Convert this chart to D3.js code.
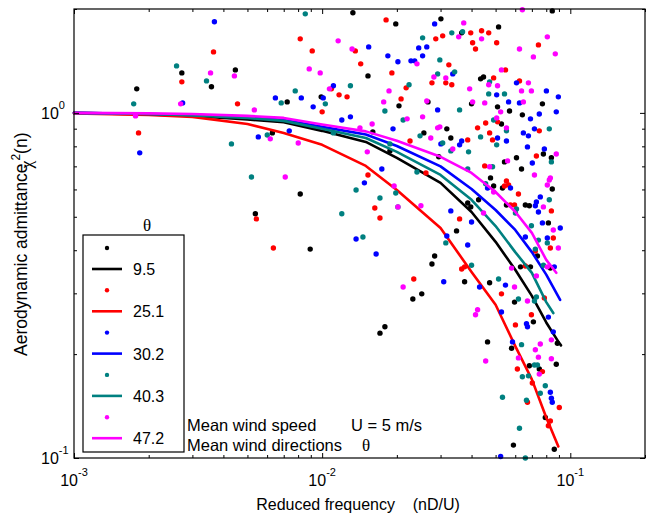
<!DOCTYPE html>
<html><head><meta charset="utf-8">
<script src="https://cdn.jsdelivr.net/npm/d3@7"></script>
<style>
body{margin:0;background:#fff}
svg{display:block}
text{font-family:Arial,"Liberation Sans",sans-serif;fill:#000}
.serif{font-family:"Liberation Serif","Times New Roman",serif}
</style>
</head><body>
<svg id="chart" width="650" height="517"></svg>
<script>
// ---------- data ----------
const seriesNames = ["9.5", "25.1", "30.2", "40.3", "47.2"];
const seriesColors = ["#000000", "#ff0000", "#0000ff", "#008080", "#ff00ff"];

const xMajorTicks = [0.001, 0.01, 0.1];
const xMinorTicks = [0.002,0.003,0.004,0.005,0.006,0.007,0.008,0.009,0.02,0.03,0.04,0.05,0.06,0.07,0.08,0.09,0.2];
const yMajorTicks = [0.1, 1];
const yMinorTicks = [0.2,0.3,0.4,0.5,0.6,0.7,0.8,0.9,2];
const xTickExp = {"0.001": "-3", "0.01": "-2", "0.1": "-1"};
const yTickExp = {"0.1": "-1", "1": "0"};

// fitted curves (reduced frequency, admittance)
const curveFreqBlack   = [0.001,0.002,0.003,0.005,0.007,0.01,0.015,0.02,0.03,0.04,0.05,0.06,0.07,0.08,0.09,0.0917];
const curveValBlack    = [1.0,0.99,0.98,0.957,0.939,0.887,0.824,0.741,0.627,0.516,0.423,0.351,0.295,0.247,0.216,0.212];
const curveFreqRed     = [0.001,0.002,0.003,0.005,0.007,0.01,0.015,0.02,0.03,0.04,0.05,0.06,0.07,0.08,0.0895];
const curveValRed      = [0.997,0.987,0.974,0.929,0.875,0.808,0.702,0.598,0.464,0.346,0.278,0.211,0.169,0.131,0.108];
const curveFreqBlue    = [0.001,0.002,0.003,0.005,0.007,0.01,0.015,0.02,0.03,0.04,0.05,0.06,0.07,0.08,0.091];
const curveValBlue     = [1.0,0.993,0.987,0.974,0.954,0.911,0.866,0.802,0.70,0.602,0.523,0.458,0.395,0.34,0.287];
const curveFreqTeal    = [0.001,0.002,0.003,0.005,0.007,0.01,0.015,0.02,0.03,0.04,0.05,0.06,0.07,0.08,0.0854];
const curveValTeal     = [1.0,0.993,0.983,0.967,0.948,0.899,0.846,0.771,0.661,0.56,0.47,0.395,0.344,0.283,0.263];
const curveFreqMagenta = [0.001,0.002,0.003,0.005,0.007,0.01,0.015,0.02,0.03,0.04,0.05,0.06,0.07,0.08,0.0878];
const curveValMagenta  = [1.0,0.997,0.993,0.98,0.967,0.925,0.884,0.83,0.746,0.67,0.59,0.517,0.449,0.375,0.344];

// measured points [reduced frequency, admittance]
const dotsBlack = [[0.00272,1.306],[0.00179,1.174],[0.00358,1.19],[0.0133,1.95],[0.0198,1.811],[0.0301,1.873],[0.00447,1.332],[0.0153,1.28],[0.00991,1.113],[0.00723,1.076],[0.0204,1.048],[0.0267,1.076],[0.0257,0.875],[0.0318,0.899],[0.0063,0.875],[0.016,0.881],[0.01875,0.776],[0.0295,0.746],[0.0435,1.255],[0.0447,1.271],[0.0365,1.706],[0.0514,1.775],[0.0846,1.975],[0.04,1.062],[0.0509,1.041],[0.0569,1.013],[0.0772,1.062],[0.0641,0.987],[0.0528,0.929],[0.033,0.846],[0.0779,0.76],[0.0839,0.741],[0.0607,0.741],[0.0543,0.721],[0.0636,0.688],[0.0477,0.648],[0.00816,0.582],[0.00538,0.51],[0.00895,0.403],[0.0284,0.385],[0.0277,0.365],[0.0232,0.289],[0.0252,0.299],[0.0179,0.24],[0.0171,0.23],[0.0533,0.606],[0.0491,0.614],[0.0846,0.602],[0.0659,0.541],[0.0684,0.538],[0.0553,0.541],[0.0427,0.56],[0.0386,0.548],[0.0397,0.534],[0.0348,0.455],[0.0816,0.48],[0.0831,0.355],[0.0691,0.358],[0.0737,0.385],[0.063,0.358],[0.0596,0.283],[0.071,0.248],[0.0464,0.217],[0.058,0.208],[0.0473,0.322],[0.0375,0.324],[0.0887,0.215],[0.0878,0.187],[0.0684,0.185],[0.075,0.181],[0.0793,0.131],[0.059,0.109],[0.0862,0.106]];
const dotsRed = [[0.00365,1.502],[0.00272,1.23],[0.00182,0.875],[0.0181,1.86],[0.00816,1.639],[0.00912,1.512],[0.0136,1.512],[0.0287,1.639],[0.0306,1.672],[0.0143,1.387],[0.0191,1.306],[0.0277,1.222],[0.0315,1.222],[0.0109,1.174],[0.0218,1.182],[0.0117,1.128],[0.0126,1.113],[0.0208,1.098],[0.00456,1.062],[0.01,1.007],[0.0226,0.829],[0.0262,0.67],[0.0153,0.661],[0.0397,1.706],[0.0404,1.596],[0.0439,1.729],[0.0469,1.706],[0.0505,1.596],[0.0415,1.532],[0.0744,1.574],[0.0324,1.378],[0.0333,1.206],[0.0548,1.332],[0.0491,1.263],[0.0624,1.238],[0.0509,0.942],[0.0423,0.905],[0.0456,0.935],[0.0473,0.875],[0.0486,0.835],[0.075,0.887],[0.073,0.75],[0.0386,0.835],[0.0452,0.702],[0.00543,0.493],[0.00636,0.406],[0.0163,0.53],[0.0171,0.496],[0.0234,0.33],[0.0553,0.635],[0.0543,0.614],[0.0564,0.618],[0.0618,0.582],[0.0596,0.541],[0.0574,0.541],[0.0839,0.52],[0.0358,0.493],[0.0854,0.434],[0.0831,0.406],[0.0723,0.398],[0.0659,0.36],[0.0528,0.299],[0.0786,0.291],[0.0697,0.26],[0.0601,0.243],[0.0365,0.353],[0.0375,0.358],[0.0772,0.178],[0.0612,0.181],[0.0703,0.165],[0.0672,0.145],[0.0903,0.14],[0.0831,0.128],[0.0816,0.124]];
const dotsBlue = [[0.00368,1.836],[0.00274,1.069],[0.00184,0.766],[0.0284,1.811],[0.0154,1.553],[0.0245,1.543],[0.0264,1.553],[0.0184,1.463],[0.0202,1.406],[0.0228,1.415],[0.0236,1.415],[0.0254,1.463],[0.0111,1.198],[0.0101,1.105],[0.00648,1.105],[0.00824,1.105],[0.0092,1.041],[0.0292,1.02],[0.012,0.954],[0.013,0.974],[0.0193,0.899],[0.0301,0.813],[0.00553,0.852],[0.00737,0.887],[0.0174,0.688],[0.0336,1.297],[0.0607,1.222],[0.0505,1.128],[0.0801,1.158],[0.0895,1.113],[0.0564,1.076],[0.0624,1.069],[0.0878,1.007],[0.075,0.993],[0.0691,0.961],[0.0509,0.846],[0.0553,0.829],[0.0647,0.875],[0.0678,0.858],[0.0717,0.899],[0.0672,0.797],[0.0786,0.786],[0.0365,0.829],[0.0358,0.808],[0.0703,0.716],[0.0148,0.627],[0.0137,0.431],[0.0165,0.39],[0.0318,0.44],[0.0309,0.324],[0.0464,0.606],[0.0574,0.606],[0.073,0.552],[0.0757,0.571],[0.0723,0.538],[0.0744,0.516],[0.033,0.52],[0.04,0.483],[0.0386,0.414],[0.0772,0.48],[0.0659,0.437],[0.0808,0.434],[0.0911,0.464],[0.0862,0.358],[0.0548,0.317],[0.0528,0.265],[0.0816,0.256],[0.0666,0.245],[0.0672,0.24],[0.0854,0.232],[0.0585,0.217],[0.0431,0.313],[0.0831,0.155],[0.0839,0.149],[0.0846,0.145],[0.0524,0.101]];
const dotsTeal = [[0.00259,1.368],[0.00342,1.238],[0.00174,1.062],[0.00855,1.936],[0.0254,1.65],[0.0298,1.424],[0.0292,1.297],[0.013,1.198],[0.0224,1.206],[0.00779,1.158],[0.00684,1.069],[0.0103,1.062],[0.0179,1.013],[0.0212,0.954],[0.0248,0.858],[0.0306,0.818],[0.00601,0.863],[0.00431,0.813],[0.0111,0.875],[0.01875,0.813],[0.0241,0.674],[0.00519,0.652],[0.0368,1.718],[0.0333,1.706],[0.0342,1.315],[0.0473,1.23],[0.0469,1.135],[0.0543,1.135],[0.0358,1.02],[0.0491,0.954],[0.0553,0.887],[0.0823,0.899],[0.0435,0.852],[0.0505,0.808],[0.0839,0.721],[0.0389,0.771],[0.033,0.776],[0.0486,0.698],[0.0386,0.688],[0.012,0.51],[0.0137,0.598],[0.0171,0.567],[0.0198,0.586],[0.0202,0.534],[0.0146,0.437],[0.0315,0.42],[0.0456,0.623],[0.0823,0.56],[0.0607,0.527],[0.0601,0.513],[0.0697,0.471],[0.0744,0.428],[0.0808,0.42],[0.0779,0.362],[0.0723,0.403],[0.0514,0.33],[0.0618,0.289],[0.0717,0.285],[0.073,0.293],[0.0636,0.213],[0.04,0.362],[0.0717,0.186],[0.0737,0.186],[0.0641,0.172],[0.0678,0.173],[0.0793,0.162],[0.0757,0.154],[0.0533,0.15],[0.0666,0.147],[0.0624,0.122],[0.0659,0.1]];
const dotsMagenta = [[0.00355,1.306],[0.00269,1.062],[0.00177,0.98],[0.0116,1.617],[0.0132,1.532],[0.0241,1.387],[0.00443,1.28],[0.00887,1.341],[0.00982,1.306],[0.0282,1.271],[0.0315,1.263],[0.0107,1.174],[0.0186,1.158],[0.0177,1.076],[0.0264,1.083],[0.00533,1.02],[0.022,0.961],[0.0159,0.929],[0.0254,0.974],[0.0142,0.905],[0.0274,0.846],[0.0292,0.905],[0.0298,0.911],[0.00618,0.841],[0.00801,0.818],[0.0152,0.771],[0.0071,0.652],[0.0641,1.99],[0.0372,1.823],[0.0355,1.661],[0.0439,1.639],[0.0808,1.661],[0.0624,1.532],[0.071,1.453],[0.087,1.483],[0.0528,1.332],[0.0469,1.206],[0.0509,1.198],[0.0678,1.222],[0.0393,1.174],[0.0636,1.158],[0.0697,1.158],[0.0404,1.076],[0.0452,1.069],[0.0647,1.076],[0.0524,1.007],[0.0505,0.967],[0.0553,0.905],[0.0336,0.786],[0.0878,0.76],[0.0559,0.726],[0.0473,0.698],[0.0717,0.661],[0.0831,0.648],[0.0195,0.614],[0.0202,0.534],[0.025,0.538],[0.0212,0.313],[0.0808,0.618],[0.0823,0.639],[0.0491,0.59],[0.0779,0.534],[0.0447,0.513],[0.0854,0.458],[0.0895,0.406],[0.0808,0.358],[0.073,0.337],[0.058,0.355],[0.0596,0.313],[0.0672,0.285],[0.0839,0.22],[0.0757,0.214],[0.0423,0.269],[0.0415,0.26],[0.0456,0.191],[0.0723,0.206],[0.0744,0.196],[0.0839,0.194],[0.0618,0.195],[0.075,0.175]];

const xLabel = "Reduced frequency    (nD/U)";
const yLabelMain = "Aerodynamic admittance";
const legendTitle = "θ";
const noteLine1 = ["Mean wind speed", "U = 5 m/s"];
const noteLine2 = ["Mean wind directions", "θ"];

// ---------- build ----------
const series = [
  {name: seriesNames[0], color: seriesColors[0], dots: dotsBlack,   cf: curveFreqBlack,   cv: curveValBlack},
  {name: seriesNames[1], color: seriesColors[1], dots: dotsRed,     cf: curveFreqRed,     cv: curveValRed},
  {name: seriesNames[2], color: seriesColors[2], dots: dotsBlue,    cf: curveFreqBlue,    cv: curveValBlue},
  {name: seriesNames[3], color: seriesColors[3], dots: dotsTeal,    cf: curveFreqTeal,    cv: curveValTeal},
  {name: seriesNames[4], color: seriesColors[4], dots: dotsMagenta, cf: curveFreqMagenta, cv: curveValMagenta}
];

const svg = d3.select("#chart");
const L = 74, R = 645, T = 9, B = 458;
const x = d3.scaleLog().domain([0.001, 0.2]).range([L, R]);
const y = d3.scaleLog().domain([0.1, 2]).range([B, T]);

svg.append("rect").attr("width", 650).attr("height", 517).attr("fill", "#fff");

const plot = svg.append("g");
const line = d3.line().x(d => x(d[0])).y(d => y(d[1]));
series.forEach(s => {
  plot.append("g").selectAll("circle").data(s.dots).join("circle")
    .attr("cx", d => x(d[0])).attr("cy", d => y(d[1])).attr("r", 2.7).attr("fill", s.color);
  plot.append("path").datum(d3.zip(s.cf, s.cv)).attr("d", line)
    .attr("fill", "none").attr("stroke", s.color).attr("stroke-width", 2.6)
    .attr("stroke-linejoin", "round").attr("stroke-linecap", "round");
});

// ticks (inward on all four sides)
function ticks(gen, vals, len, tr) {
  svg.append("g").attr("transform", tr)
    .call(gen.tickValues(vals).tickSizeInner(-len).tickSizeOuter(0).tickFormat(""))
    .call(g => g.select(".domain").remove())
    .call(g => g.selectAll("line").attr("stroke", "#000").attr("stroke-width", 1));
}
ticks(d3.axisBottom(x), xMajorTicks, 5, `translate(0,${B})`);
ticks(d3.axisBottom(x), xMinorTicks, 3, `translate(0,${B})`);
ticks(d3.axisTop(x), xMajorTicks, 5, `translate(0,${T})`);
ticks(d3.axisTop(x), xMinorTicks, 3, `translate(0,${T})`);
ticks(d3.axisLeft(y), yMajorTicks, 5, `translate(${L},0)`);
ticks(d3.axisLeft(y), yMinorTicks, 3, `translate(${L},0)`);
ticks(d3.axisRight(y), yMajorTicks, 5, `translate(${R},0)`);
ticks(d3.axisRight(y), yMinorTicks, 3, `translate(${R},0)`);

svg.append("rect").attr("x", L).attr("y", T).attr("width", R - L).attr("height", B - T)
  .attr("fill", "none").attr("stroke", "#000").attr("stroke-width", 1.2);

// tick labels
xMajorTicks.forEach(v => {
  const t = svg.append("text").attr("x", x(v)).attr("y", 486).attr("text-anchor", "middle").style("font-size", "16px");
  t.append("tspan").text("10");
  t.append("tspan").attr("dy", -10).style("font-size", "11px").text(xTickExp[String(v)]);
});
yMajorTicks.forEach(v => {
  const t = svg.append("text").attr("x", 41).attr("y", y(v) + 6).style("font-size", "16px");
  t.append("tspan").text("10");
  t.append("tspan").attr("dy", -10).style("font-size", "11px").text(yTickExp[String(v)]);
});

// axis titles
svg.append("text").attr("x", 358).attr("y", 510).attr("text-anchor", "middle")
  .style("font-size", "16px").style("white-space", "pre").text(xLabel);

const yl = svg.append("text").attr("transform", "translate(27,356) rotate(-90)").style("font-size", "17.5px");
yl.append("tspan").text(yLabelMain);
yl.append("tspan").attr("class", "serif").attr("dx", -5).attr("dy", 5).text("χ");
yl.append("tspan").attr("dy", -12).style("font-size", "12px").text("2");
yl.append("tspan").attr("dy", 7).text("(n)");

// legend
svg.append("rect").attr("x", 83).attr("y", 235).attr("width", 101).attr("height", 217)
  .attr("fill", "#fff").attr("stroke", "#000").attr("stroke-width", 1.2);
svg.append("text").attr("class", "serif").attr("x", 147).attr("y", 231).attr("text-anchor", "middle")
  .style("font-size", "17px").text(legendTitle);
series.forEach((s, i) => {
  const y0 = 248 + i * 42.3;
  svg.append("circle").attr("cx", 107).attr("cy", y0).attr("r", 2.2).attr("fill", s.color);
  svg.append("line").attr("x1", 92).attr("x2", 122).attr("y1", y0 + 21).attr("y2", y0 + 21)
    .attr("stroke", s.color).attr("stroke-width", 2.6);
  svg.append("text").attr("x", 133).attr("y", y0 + 27).style("font-size", "16px").text(s.name);
});

// annotation
svg.append("text").attr("x", 187).attr("y", 431).style("font-size", "16.5px").text(noteLine1[0]);
svg.append("text").attr("x", 351).attr("y", 431).style("font-size", "16.5px").text(noteLine1[1]);
svg.append("text").attr("x", 187).attr("y", 451).style("font-size", "16.5px").text(noteLine2[0]);
svg.append("text").attr("class", "serif").attr("x", 362).attr("y", 451).style("font-size", "17px").text(noteLine2[1]);
</script>
</body></html>
